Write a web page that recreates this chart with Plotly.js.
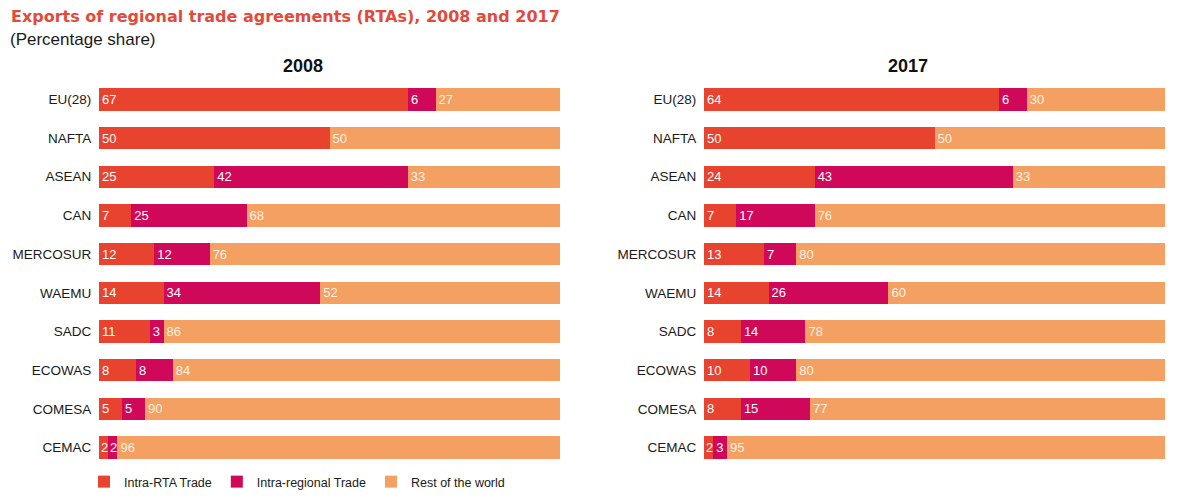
<!DOCTYPE html>
<html>
<head>
<meta charset="utf-8">
<script src="https://cdn.plot.ly/plotly-3.0.1.min.js"></script>
<style>html,body{margin:0;padding:0;background:#fff;}#chart{width:1192px;height:497px;}</style>
</head>
<body>
<div id="chart"></div>
<script>
const categories = ["EU(28)", "NAFTA", "ASEAN", "CAN", "MERCOSUR", "WAEMU", "SADC", "ECOWAS", "COMESA", "CEMAC"];
const seriesNames = ["Intra-RTA Trade", "Intra-regional Trade", "Rest of the world"];
const intraRTA2008 = [67, 50, 25, 7, 12, 14, 11, 8, 5, 2];
const intraRegional2008 = [6, 0, 42, 25, 12, 34, 3, 8, 5, 2];
const rest2008 = [27, 50, 33, 68, 76, 52, 86, 84, 90, 96];
const intraRTA2017 = [64, 50, 24, 7, 13, 14, 8, 10, 8, 2];
const intraRegional2017 = [6, 0, 43, 17, 7, 26, 14, 10, 15, 3];
const rest2017 = [30, 50, 33, 76, 80, 60, 78, 80, 77, 95];
const panelTitles = ["2008", "2017"];

const colors = ["#E8432F", "#D0085A", "#F4A062"];
const textColors = ["#ffffff", "#ffffff", "#FFF1E4"];
const labelFont = "Liberation Sans, Arial, sans-serif";
const SMALL = 3; // segments narrower than this get their label as an annotation (avoids auto-shrink)

function makeTrace(vals, idx, xa, ya, showLegend) {
  return {
    type: "bar",
    orientation: "h",
    name: seriesNames[idx],
    y: categories,
    x: vals,
    xaxis: xa,
    yaxis: ya,
    marker: {color: colors[idx], line: {width: 0}},
    text: vals.map(v => (v && v >= SMALL) ? String(v) : ""),
    textposition: "inside",
    insidetextanchor: "start",
    textangle: 0,
    constraintext: "none",
    textfont: {family: labelFont, size: 13, color: textColors[idx]},
    hoverinfo: "skip",
    showlegend: showLegend,
    legendgroup: seriesNames[idx],
    cliponaxis: false
  };
}

const data = [
  makeTrace(intraRTA2008, 0, "x", "y", true),
  makeTrace(intraRegional2008, 1, "x", "y", true),
  makeTrace(rest2008, 2, "x", "y", true),
  makeTrace(intraRTA2017, 0, "x2", "y2", false),
  makeTrace(intraRegional2017, 1, "x2", "y2", false),
  makeTrace(rest2017, 2, "x2", "y2", false)
];

// labels for very narrow segments, placed at the segment start computed from the data
const smallLabels = [];
[[ [intraRTA2008, intraRegional2008, rest2008], "x", "y" ], [ [intraRTA2017, intraRegional2017, rest2017], "x2", "y2" ]].forEach(([series, xa, ya]) => {
  categories.forEach((cat, i) => {
    let start = 0;
    series.forEach((vals, k) => {
      const v = vals[i];
      if (v && v < SMALL) {
        smallLabels.push({text: String(v), xref: xa, yref: ya, x: start, y: cat, xanchor: "left", yanchor: "middle", xshift: 0, showarrow: false, font: {family: labelFont, size: 13, color: textColors[k]}});
      }
      start += v;
    });
  });
});

const W = 1192, H = 497, PH = 388.5;
const tickFont = {family: labelFont, size: 13.5, color: "#1a1a1a"};
const xBase = {range: [0, 100], showgrid: false, zeroline: false, showticklabels: false, showline: false, ticks: "", fixedrange: true};
const yBase = {autorange: "reversed", showgrid: false, zeroline: false, showline: false, ticks: "outside", ticklen: 4, tickcolor: "rgba(0,0,0,0)", tickfont: tickFont, fixedrange: true};

const layout = {
  width: W, height: H,
  margin: {l: 0, r: 0, t: 80, b: 28.5},
  paper_bgcolor: "#fff",
  plot_bgcolor: "#fff",
  barmode: "stack",
  bargap: 0.42,
  font: {family: labelFont},
  xaxis: Object.assign({}, xBase, {domain: [99 / W, 560 / W], anchor: "y"}),
  yaxis: Object.assign({}, yBase, {domain: [0, 1], anchor: "x"}),
  xaxis2: Object.assign({}, xBase, {domain: [704 / W, 1165 / W], anchor: "y2"}),
  yaxis2: Object.assign({}, yBase, {domain: [0, 1], anchor: "x2"}),
  showlegend: true,
  legend: {
    orientation: "h",
    x: 84 / W, xanchor: "left",
    y: -0.04, yanchor: "middle",
    font: {family: labelFont, size: 12.5, color: "#1a1a1a"},
    traceorder: "normal",
    bgcolor: "rgba(0,0,0,0)"
  },
  annotations: [
    {text: "<b>Exports of regional trade agreements (RTAs), 2008 and 2017</b>", xref: "paper", yref: "paper", x: 9 / W, xanchor: "left", y: 1 + 64 / PH, yanchor: "middle", showarrow: false, font: {family: "DejaVu Sans, sans-serif", size: 16, color: "#E24A3B"}},
    {text: "(Percentage share)", xref: "paper", yref: "paper", x: 8 / W, xanchor: "left", y: 1 + 41 / PH, yanchor: "middle", showarrow: false, font: {family: labelFont, size: 17, color: "#1a1a1a"}},
    {text: "<b>" + panelTitles[0] + "</b>", xref: "paper", yref: "paper", x: 303 / W, xanchor: "center", y: 1 + 14 / PH, yanchor: "middle", showarrow: false, font: {family: labelFont, size: 18, color: "#111"}},
    {text: "<b>" + panelTitles[1] + "</b>", xref: "paper", yref: "paper", x: 908 / W, xanchor: "center", y: 1 + 14 / PH, yanchor: "middle", showarrow: false, font: {family: labelFont, size: 18, color: "#111"}}
  ].concat(smallLabels)
};

Plotly.newPlot("chart", data, layout, {displayModeBar: false, staticPlot: true});
</script>
</body>
</html>
